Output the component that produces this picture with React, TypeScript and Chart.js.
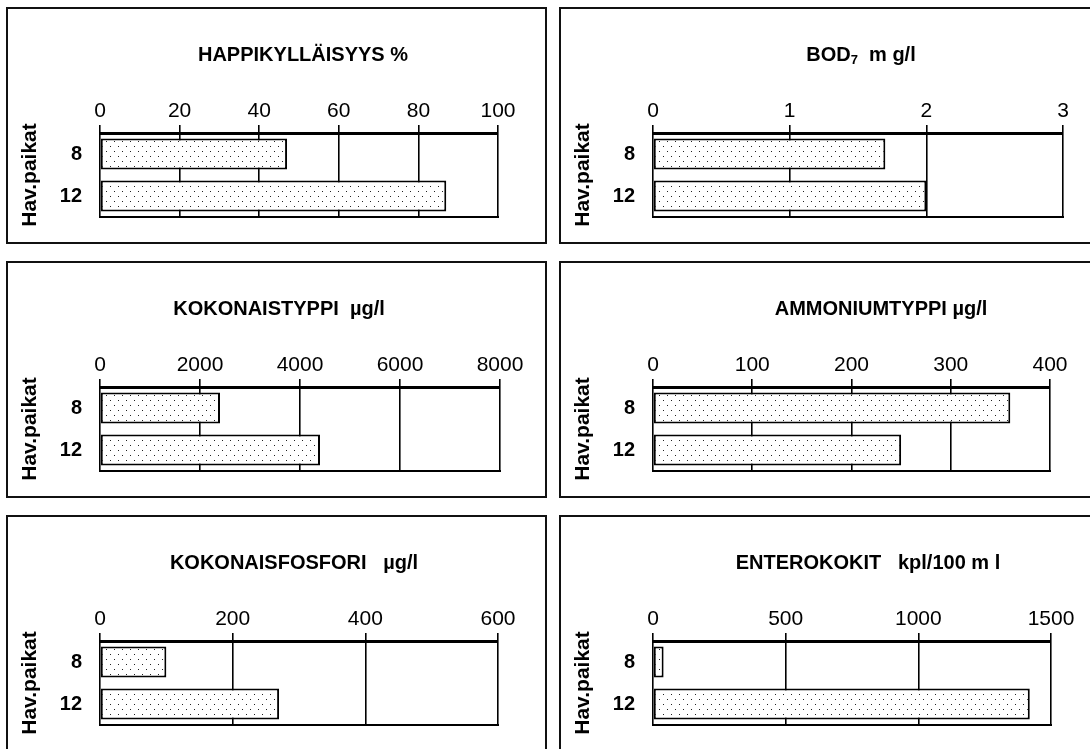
import React, { useEffect, useRef } from 'react';
import { Chart, registerables } from 'chart.js';

Chart.register(...registerables);

const FONT = '"Liberation Sans", Arial, Helvetica, sans-serif';

// ---- data ----
const categories = ['8', '12'];
const happiValues = [47, 87];
const bodValues = [1.7, 2.0];
const typpiValues = [2400, 4400];
const ammoniumValues = [360, 250];
const fosforiValues = [100, 270];
const enteroValues = [40, 1420];

const happiTicks = [0, 100, 20];
const bodTicks = [0, 3, 1];
const typpiTicks = [0, 8000, 2000];
const ammoniumTicks = [0, 400, 100];
const fosforiTicks = [0, 600, 200];
const enteroTicks = [0, 1500, 500];

const yAxisTitle = 'Hav.paikat';

type Seg = { t: string; sub?: boolean };

const panels: {
  title: Seg[];
  values: number[];
  ticks: number[];
  col: number;
  row: number;
  titleX: number;
  padRight: number;
}[] = [
  { title: [{ t: 'HAPPIKYLLÄISYYS %' }], values: happiValues, ticks: happiTicks, col: 0, row: 0, titleX: 303, padRight: 47 },
  { title: [{ t: 'BOD' }, { t: '7', sub: true }, { t: '  m g/l' }], values: bodValues, ticks: bodTicks, col: 1, row: 0, titleX: 861, padRight: 35 },
  { title: [{ t: 'KOKONAISTYPPI  µg/l' }], values: typpiValues, ticks: typpiTicks, col: 0, row: 1, titleX: 279, padRight: 45 },
  { title: [{ t: 'AMMONIUMTYPPI µg/l' }], values: ammoniumValues, ticks: ammoniumTicks, col: 1, row: 1, titleX: 881, padRight: 48 },
  { title: [{ t: 'KOKONAISFOSFORI   µg/l' }], values: fosforiValues, ticks: fosforiTicks, col: 0, row: 2, titleX: 294, padRight: 47 },
  { title: [{ t: 'ENTEROKOKIT   kpl/100 m l' }], values: enteroValues, ticks: enteroTicks, col: 1, row: 2, titleX: 868, padRight: 47 },
];

const COL_X = [6, 559];
const ROW_Y = [7, 261, 515];
const PANEL_W = 541;
const PANEL_H = 237;
const BORDER = 2;

function makePattern(): CanvasPattern | string {
  const c = document.createElement('canvas');
  c.width = 8;
  c.height = 10;
  const g = c.getContext('2d');
  if (!g) return '#eee';
  g.fillStyle = '#ffffff';
  g.fillRect(0, 0, 8, 10);
  g.fillStyle = '#222222';
  g.fillRect(2, 2, 1, 1);
  g.fillRect(6, 7, 1, 1);
  const ctx = document.createElement('canvas').getContext('2d');
  const p = ctx ? ctx.createPattern(c, 'repeat') : null;
  return p || '#eee';
}

function Panel({ cfg }: { cfg: (typeof panels)[number] }) {
  const ref = useRef<HTMLCanvasElement>(null);
  const left = COL_X[cfg.col];
  const top = ROW_Y[cfg.row];

  useEffect(() => {
    const canvas = ref.current;
    if (!canvas) return;
    const innerLeft = left + BORDER;
    const titlePlugin = {
      id: 'panelTitle',
      afterDraw(chart: any) {
        const ctx = chart.ctx as CanvasRenderingContext2D;
        ctx.save();
        ctx.fillStyle = '#000';
        ctx.textBaseline = 'middle';
        ctx.textAlign = 'left';
        const mainFont = `bold 20px ${FONT}`;
        const subFont = `bold 13px ${FONT}`;
        let total = 0;
        for (const s of cfg.title) {
          ctx.font = s.sub ? subFont : mainFont;
          total += ctx.measureText(s.t).width;
        }
        let x = cfg.titleX - innerLeft - total / 2;
        const y = 46;
        for (const s of cfg.title) {
          ctx.font = s.sub ? subFont : mainFont;
          ctx.fillText(s.t, x, s.sub ? y + 5 : y);
          x += ctx.measureText(s.t).width;
        }
        ctx.restore();
      },
    };
    const bottomLine = {
      id: 'bottomLine',
      afterDatasetsDraw(chart: any) {
        const { ctx, chartArea } = chart;
        ctx.save();
        ctx.strokeStyle = '#000';
        ctx.lineWidth = 2;
        ctx.beginPath();
        ctx.moveTo(chartArea.left - 1, chartArea.bottom);
        ctx.lineTo(chartArea.right + 1, chartArea.bottom);
        ctx.stroke();
        ctx.restore();
      },
    };
    const chart = new Chart(canvas, {
      type: 'bar',
      data: {
        labels: categories,
        datasets: [
          {
            data: cfg.values,
            backgroundColor: makePattern() as any,
            borderColor: '#000',
            borderWidth: 2,
            borderSkipped: false,
            barPercentage: 0.74,
            categoryPercentage: 1,
          },
        ],
      },
      options: {
        indexAxis: 'y',
        animation: false,
        responsive: false,
        maintainAspectRatio: false,
        devicePixelRatio: 1,
        layout: { padding: { left: 0, top: 0, right: cfg.padRight, bottom: 25 } },
        plugins: {
          legend: { display: false },
          tooltip: { enabled: false },
          title: { display: false },
        },
        scales: {
          x: {
            position: 'top',
            min: cfg.ticks[0],
            max: cfg.ticks[1],
            ticks: {
              stepSize: cfg.ticks[2],
              color: '#000',
              font: { family: FONT, size: 21 },
              padding: 1,
              maxRotation: 0,
              autoSkip: false,
              callback: (v: any) => String(v),
            },
            grid: { color: '#000', lineWidth: 1.6, tickLength: 8, drawTicks: true },
            border: { color: '#000', width: 3 },
            afterFit: (s: any) => {
              s.height = 124;
            },
          },
          y: {
            ticks: {
              color: '#000',
              font: { family: FONT, size: 20, weight: 'bold' },
              padding: 18,
            },
            grid: { display: false, drawTicks: false },
            border: { display: false },
            title: {
              display: true,
              text: yAxisTitle,
              color: '#000',
              font: { family: FONT, size: 21, weight: 'bold' },
              padding: { top: 10, bottom: 0 },
            },
            afterFit: (s: any) => {
              s.width = 92;
              s.paddingTop = 0;
              s.paddingBottom = 0;
            },
          },
        },
      } as any,
      plugins: [titlePlugin, bottomLine],
    });
    return () => chart.destroy();
  }, []);

  return (
    <div
      style={{
        position: 'absolute',
        left,
        top,
        width: PANEL_W,
        height: PANEL_H,
        boxSizing: 'border-box',
        border: `${BORDER}px solid #111`,
        background: '#fff',
      }}
    >
      <canvas
        ref={ref}
        width={PANEL_W - 2 * BORDER}
        height={PANEL_H - 2 * BORDER}
        style={{ display: 'block', width: PANEL_W - 2 * BORDER, height: PANEL_H - 2 * BORDER }}
      />
    </div>
  );
}

export default function App() {
  return (
    <div
      style={{
        position: 'fixed',
        left: 0,
        top: 0,
        width: 1090,
        height: 749,
        overflow: 'hidden',
        background: '#fff',
      }}
    >
      {panels.map((p, i) => (
        <Panel key={i} cfg={p} />
      ))}
    </div>
  );
}
